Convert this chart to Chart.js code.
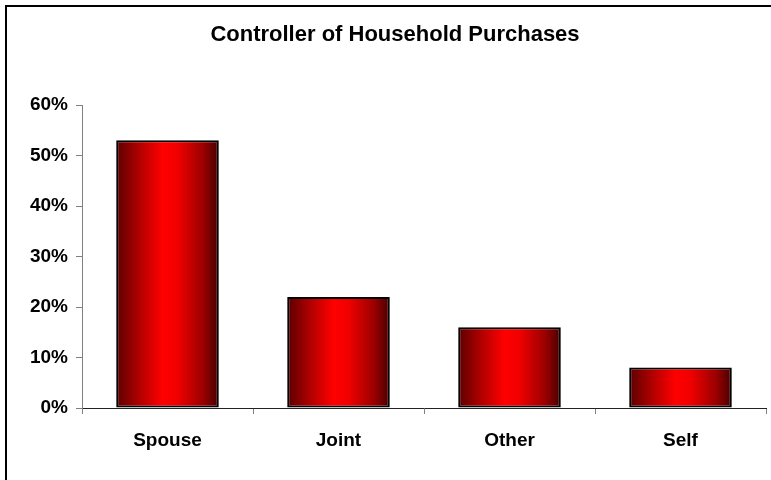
<!DOCTYPE html>
<html>
<head>
<meta charset="utf-8">
<script src="https://cdn.jsdelivr.net/npm/chart.js@4.4.1/dist/chart.umd.min.js"></script>
<style>
    body { margin: 0; background: #fff; }
    #wrap { position: relative; width: 771px; height: 480px; }
</style>
</head>
<body>
<div id="wrap"><canvas id="purchaseChart"></canvas></div>
<script>
const categories = ["Spouse", "Joint", "Other", "Self"];
const shareValues = [53, 22, 16, 8];
const tickMax = 60;
const tickStep = 10;

const fontFamily = "'Liberation Sans', Arial, sans-serif";

// outer frame, cut off on the right and bottom like the original
const framePlugin = {
    id: "frame",
    afterDraw(chart) {
        const c = chart.ctx;
        c.save();
        c.strokeStyle = "#000";
        c.lineWidth = 2;
        c.beginPath();
        c.moveTo(6, 480);
        c.lineTo(6, 6);
        c.lineTo(771, 6);
        c.stroke();
        c.restore();
    }
};

function barGradient(context) {
    const chart = context.chart;
    const xScale = chart.scales.x;
    if (!chart.chartArea || !xScale || context.type !== "data") {
        return "#e00000";
    }
    const barWidth = (xScale.width / categories.length) * 0.6;
    const centerX = xScale.getPixelForValue(context.dataIndex);
    const g = chart.ctx.createLinearGradient(centerX - barWidth / 2, 0, centerX + barWidth / 2, 0);
    g.addColorStop(0, "#5a0000");
    g.addColorStop(0.2, "#a80000");
    g.addColorStop(0.45, "#ff0000");
    g.addColorStop(0.6, "#f00000");
    g.addColorStop(0.85, "#9a0000");
    g.addColorStop(1, "#460000");
    return g;
}

const ctx = document.getElementById("purchaseChart").getContext("2d");
new Chart(ctx, {
    type: "bar",
    data: {
        labels: categories,
        datasets: [
            {
                data: shareValues,
                backgroundColor: barGradient,
                borderColor: "#000",
                borderWidth: 2,
                borderSkipped: false,
                categoryPercentage: 1,
                barPercentage: 0.6
            }
        ]
    },
    options: {
        responsive: true,
        maintainAspectRatio: false,
        animation: false,
        layout: {
            padding: { left: 24, right: 5, top: 0, bottom: 0 }
        },
        scales: {
            x: {
                afterFit(scale) { scale.height = 72; },
                grid: {
                    drawOnChartArea: false,
                    drawTicks: true,
                    tickLength: 6,
                    tickColor: "#808080",
                    offset: true
                },
                border: { display: true, color: "#222", width: 1 },
                ticks: {
                    color: "#000",
                    padding: 15,
                    font: { family: fontFamily, size: 19, weight: "bold" }
                }
            },
            y: {
                min: 0,
                max: tickMax,
                afterFit(scale) { scale.width = 58; },
                grid: {
                    drawOnChartArea: false,
                    drawTicks: true,
                    tickLength: 6,
                    tickColor: "#808080"
                },
                border: { display: true, color: "#808080", width: 1 },
                ticks: {
                    stepSize: tickStep,
                    color: "#000",
                    padding: 8,
                    font: { family: fontFamily, size: 19, weight: "bold" },
                    callback: (value) => value + "%"
                }
            }
        },
        plugins: {
            legend: { display: false },
            tooltip: { enabled: false },
            title: {
                display: true,
                text: "Controller of Household Purchases",
                color: "#000",
                font: { family: fontFamily, size: 22, weight: "bold", lineHeight: 1.2 },
                padding: { top: 22, bottom: 56.6 }
            }
        }
    },
    plugins: [framePlugin]
});
</script>
</body>
</html>
